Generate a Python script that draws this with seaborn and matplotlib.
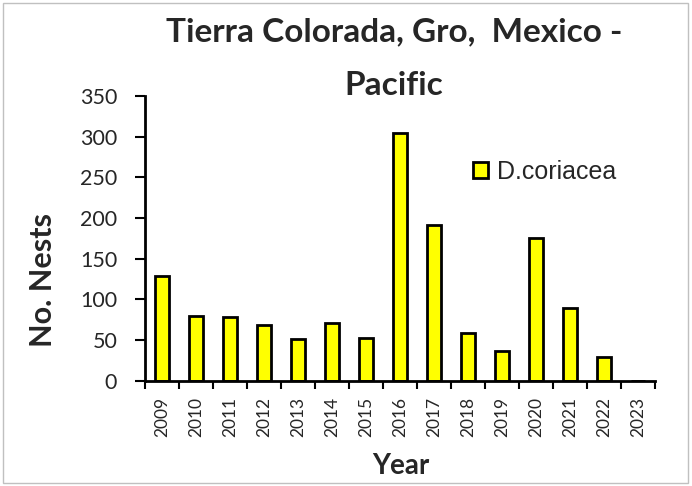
import matplotlib
matplotlib.use("Agg")
import matplotlib.pyplot as plt
from matplotlib.patches import Rectangle
from matplotlib.ticker import FixedLocator
import seaborn as sns
import pandas as pd

years = ["2009", "2010", "2011", "2012", "2013", "2014", "2015", "2016",
         "2017", "2018", "2019", "2020", "2021", "2022", "2023"]
nests = [129, 79, 78, 69, 51, 71, 53, 305, 192, 59, 36, 175, 89, 29, 0]
species = "D.coriacea"
y_ticks = [0, 50, 100, 150, 200, 250, 300, 350]

df = pd.DataFrame({"Year": years, "Nests": nests})

sns.set_theme(style="white")
plt.rcParams["font.family"] = ["Lato", "DejaVu Sans"]

W, H = 692, 486
fig = plt.figure(figsize=(W / 100, H / 100), dpi=100)
ax = fig.add_axes([145 / W, 1 - 380.7 / H, 510 / W, 284.7 / H])

sns.barplot(data=df, x="Year", y="Nests", color="#ffff00", edgecolor="black",
            linewidth=2, width=0.42, saturation=1, ax=ax, label=species)

ax.set_ylim(0, 350)
ax.set_xlim(-0.5, len(years) - 0.5)
ax.set_yticks(y_ticks)
ax.set_yticklabels([str(t) for t in y_ticks], fontsize=15.5)
ax.tick_params(axis="y", direction="out", length=7, width=1.5, color="black",
               left=True, pad=13)

# category labels centred, tick marks on category boundaries
ax.set_xticks(range(len(years)))
ax.set_xticklabels(years, rotation=90, fontsize=12.5)
ax.tick_params(axis="x", which="major", length=0, pad=12)
ax.xaxis.set_minor_locator(FixedLocator([i - 0.5 for i in range(len(years) + 1)]))
ax.tick_params(axis="x", which="minor", direction="out", length=6, width=1.5,
               color="black", bottom=True)

for s in ["top", "right"]:
    ax.spines[s].set_visible(False)
for s in ["left", "bottom"]:
    ax.spines[s].set_linewidth(2)
    ax.spines[s].set_color("black")

ax.set_xlabel("")
ax.set_ylabel("")
fig.text(401 / W, 1 - 474 / H, "Year", ha="center", va="baseline",
         fontsize=20, fontweight="bold")
fig.text(43 / W, 1 - 280 / H, "No. Nests", ha="center", va="center",
         rotation=90, fontsize=22, fontweight="bold")

fig.text(394 / W, 1 - 41 / H, "Tierra Colorada, Gro,  Mexico -", ha="center",
         va="baseline", fontsize=24, fontweight="bold")
fig.text(394 / W, 1 - 95 / H, "Pacific", ha="center", va="baseline",
         fontsize=24, fontweight="bold")

ax.legend(loc="center left", bbox_to_anchor=((473 - 145) / 510, (380.7 - 172) / 284.7),
          frameon=False, borderpad=0, borderaxespad=0,
          prop={"family": ["Liberation Sans", "DejaVu Sans"], "size": 18},
          handlelength=0.6, handleheight=0.6, handletextpad=0.35)

# figure outline
fig.patches.append(Rectangle((3 / W, 3 / H), 685 / W, 480 / H,
                             transform=fig.transFigure, fill=False,
                             edgecolor="#c0c0c0", linewidth=1))

fig.savefig("out.png", dpi=100)
